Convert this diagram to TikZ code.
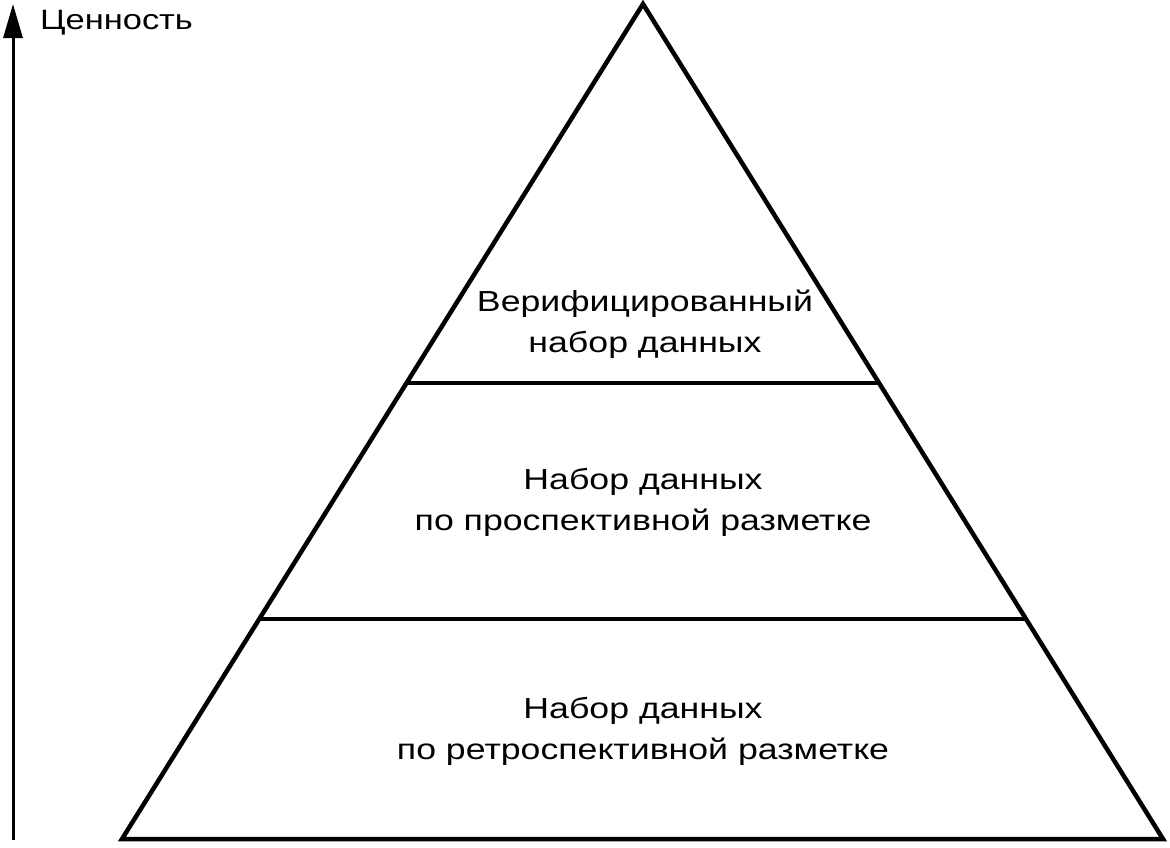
\documentclass[tikz,border=0pt]{standalone}
\usepackage{fontspec}
\setmainfont{Liberation Sans}[FakeStretch=1.23]
\usetikzlibrary{calc,arrows.meta}
\tikzset{
  pyr/.style={line width=4.5pt, line join=miter},
  lbl/.style={align=center, font=\fontsize{29}{41}\selectfont, inner sep=0pt},
  axis/.style={line width=3pt, -{Triangle[length=34pt,width=19pt]}}
}
\begin{document}
\begin{tikzpicture}[x=1pt,y=-1pt]
\useasboundingbox (0,0) rectangle (1170,847);
\coordinate (apex) at (643,4);
\coordinate (bl) at (122,839);
\coordinate (br) at (1163,839);
\draw[pyr] (apex) -- (bl) -- (br) -- cycle;
\coordinate (l1) at ($(apex)!{(383-4)/835}!(bl)$);
\coordinate (r1) at ($(apex)!{(383-4)/835}!(br)$);
\coordinate (l2) at ($(apex)!{(619-4)/835}!(bl)$);
\coordinate (r2) at ($(apex)!{(619-4)/835}!(br)$);
\draw[pyr] (l1) -- (r1);
\draw[pyr] (l2) -- (r2);
\node[lbl] (t1) at (645,324) {Верифицированный\\набор данных};
\node[lbl] (t2) at (643,502) {Набор данных\\по проспективной разметке};
\node[lbl] (t3) at (643,731) {Набор данных\\по ретроспективной разметке};
\coordinate (a0) at (13,840);
\coordinate (a1) at (13,4);
\draw[axis] (a0) -- (a1);
\node[font=\fontsize{28}{34}\selectfont, anchor=west, inner sep=0pt] (val) at (40,23) {Ценность};
\end{tikzpicture}
\end{document}
